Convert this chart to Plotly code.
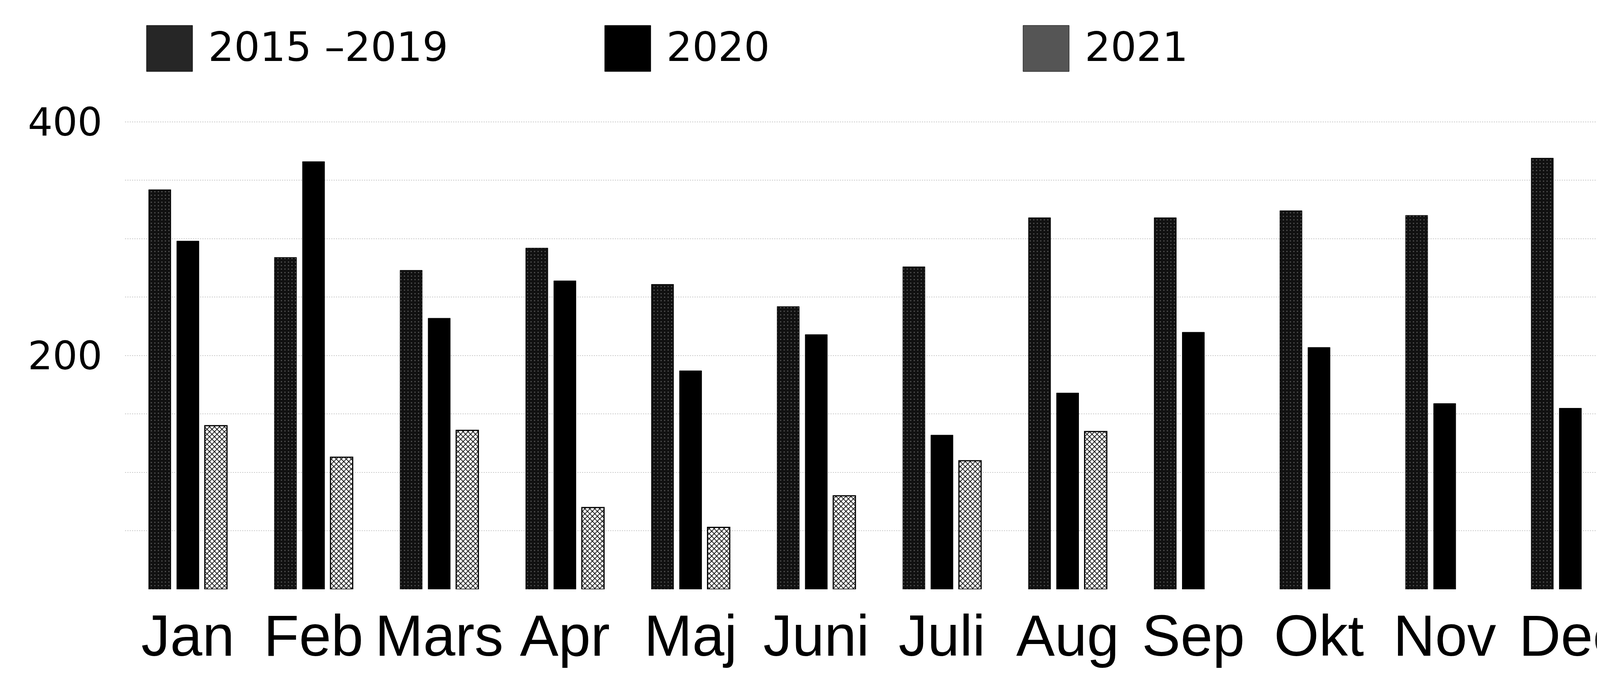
import plotly.graph_objects as go

# ---- data ----
months = ["Jan", "Feb", "Mars", "Apr", "Maj", "Juni", "Juli", "Aug", "Sep", "Okt", "Nov", "Dec"]
series_names = ["2015 –2019", "2020", "2021"]
avg_2015_2019 = [342, 284, 273, 292, 261, 242, 276, 318, 318, 324, 320, 369]
vals_2020 = [298, 366, 232, 264, 187, 218, 132, 168, 220, 207, 159, 155]
vals_2021 = [140, 113, 136, 70, 53, 80, 110, 135, None, None, None, None]
y_tick_vals = [0, 50, 100, 150, 200, 250, 300, 350, 400]
y_tick_text = ["", "", "", "", "200", "", "", "", "400"]

# ---- layout geometry (pixels) ----
W, H = 4190, 1758
ML, MR, MT, MB = 312, 17, 244, 258
PW, PH = W - ML - MR, H - MT - MB

def px_x(x):
    return (x - ML) / PW

def px_y(y):
    return (H - MB - y) / PH

styles = [
    dict(color="#111111", pattern=dict(shape=".", fgcolor="#5c5c5c", bgcolor="#111111",
                                        size=9, solidity=0.1, fillmode="replace"),
         line=dict(color="#000000", width=1)),
    dict(color="#000000", line=dict(color="#000000", width=1)),
    dict(color="#ffffff", pattern=dict(shape="x", fgcolor="#000000", bgcolor="#ffffff",
                                        size=9, solidity=0.35, fillmode="replace"),
         line=dict(color="#000000", width=3)),
]
series_values = [avg_2015_2019, vals_2020, vals_2021]

fig = go.Figure()
for name, vals, st in zip(series_names, series_values, styles):
    fig.add_trace(go.Bar(x=months, y=vals, name=name, marker=st, showlegend=False))

# ---- hand-drawn legend (large swatches as in the reference) ----
swatch_fill = ["#262626", "#000000", "#555555"]
legend_x_px = [367, 1540, 2611]
sw = 118
for name, fill, x0 in zip(series_names, swatch_fill, legend_x_px):
    fig.add_shape(type="rect", xref="paper", yref="paper",
                  x0=px_x(x0), x1=px_x(x0 + sw), y0=px_y(175), y1=px_y(57),
                  fillcolor=fill, line=dict(color="#000000", width=1))
    fig.add_annotation(xref="paper", yref="paper", x=px_x(x0 + sw + 38), y=px_y(112),
                       xanchor="left", yanchor="middle", text=name, showarrow=False,
                       font=dict(family="DejaVu Sans", size=104, color="#000000"))

fig.update_layout(
    width=W, height=H,
    margin=dict(l=ML, r=MR, t=MT, b=MB, pad=0),
    paper_bgcolor="#ffffff", plot_bgcolor="#ffffff",
    barmode="group", bargap=0.33, bargroupgap=0.21,
    showlegend=False,
)
fig.update_xaxes(
    showgrid=False, showline=False, zeroline=False, ticks="",
    tickangle=0, ticklabelstandoff=21,
    tickfont=dict(family="Liberation Sans", size=148, color="#000000"),
)
fig.update_yaxes(
    range=[0, 420], tickmode="array", tickvals=y_tick_vals, ticktext=y_tick_text,
    showgrid=True, gridcolor="#cccccc", griddash="dot", gridwidth=2,
    zeroline=False, showline=False, ticks="", ticklabelstandoff=57,
    tickfont=dict(family="DejaVu Sans", size=100, color="#000000"),
)

fig.write_html("out.html")
